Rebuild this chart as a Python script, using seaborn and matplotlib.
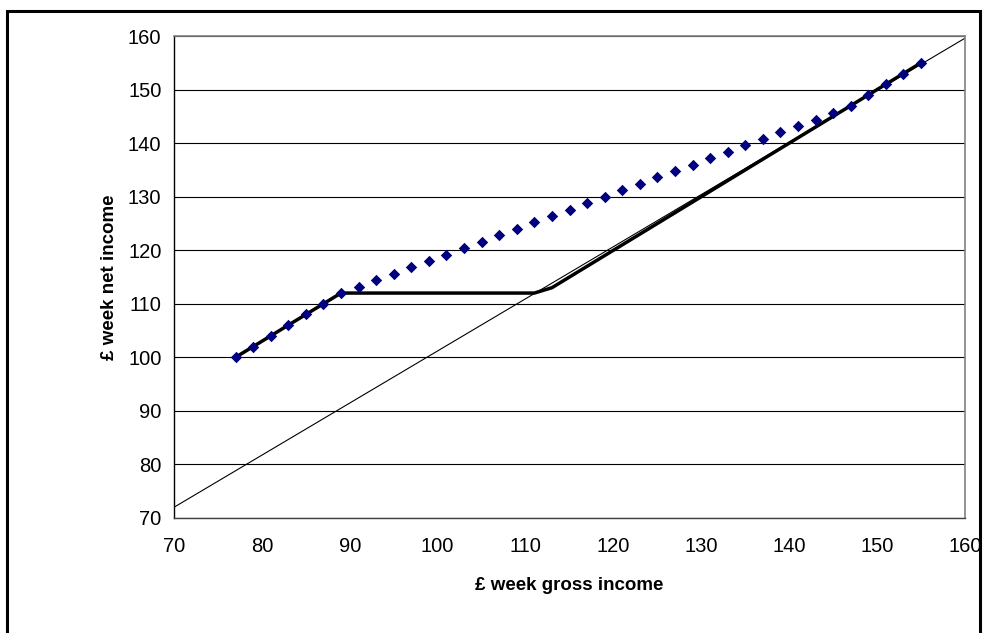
import numpy as np
import pandas as pd
import seaborn as sns
import matplotlib.pyplot as plt
from matplotlib.patches import Rectangle

# gross weekly income (x) for the two kinked series
gross = [77, 79, 81, 83, 85, 87, 89, 91, 93, 95, 97, 99, 101, 103, 105, 107, 109, 111,
         113, 115, 117, 119, 121, 123, 125, 127, 129, 131, 133, 135, 137, 139, 141, 143,
         145, 147, 149, 151, 153, 155]

# dotted series (diamonds)
net_taper = [100, 102, 104, 106, 108, 110, 112, 113.2, 114.4, 115.6, 116.8, 118.0, 119.2,
             120.4, 121.6, 122.8, 124.0, 125.2, 126.4, 127.6, 128.8, 130.0, 131.2, 132.4,
             133.6, 134.8, 136.0, 137.2, 138.4, 139.6, 140.8, 142.0, 143.2, 144.4, 145.6,
             147.0, 149, 151, 153, 155]

# thick black series
net_floor = [100, 102, 104, 106, 108, 110, 112, 112, 112, 112, 112, 112, 112, 112, 112,
             112, 112, 112, 113, 115, 117, 119, 121, 123, 125, 127, 129, 131, 133, 135,
             137, 139, 141, 143, 145, 147, 149, 151, 153, 155]

# thin reference line
ref_x = [70, 160]
ref_y = [72, 159.6]

sns.set_style("white")
plt.rcParams['font.family'] = ['Liberation Sans', 'DejaVu Sans']

df = pd.DataFrame({'gross': gross, 'taper': net_taper, 'floor': net_floor})
ref = pd.DataFrame({'x': ref_x, 'y': ref_y})

fig = plt.figure(figsize=(9.83, 6.33), dpi=100)
ax = fig.add_axes([0.177, 0.1817, 0.8047, 0.7614])

ax.set_xlim(70, 160)
ax.set_ylim(70, 160)
ax.set_xticks(range(70, 161, 10))
ax.set_yticks(range(70, 161, 10))
ax.yaxis.grid(True, color='black', linewidth=0.8)
ax.set_axisbelow(True)

sns.lineplot(data=ref, x='x', y='y', color='black', linewidth=0.8,
             estimator=None, sort=False, ax=ax)
sns.lineplot(data=df, x='gross', y='floor', color='black', linewidth=2.5,
             estimator=None, sort=False, ax=ax)
sns.scatterplot(data=df, x='gross', y='taper', marker='D', color='#000080',
                s=34, edgecolor='#000080', linewidth=0, zorder=5, ax=ax)

for side in ['top', 'right']:
    ax.spines[side].set_color('#808080')
    ax.spines[side].set_linewidth(1.2)
ax.spines['left'].set_color('black')
ax.spines['bottom'].set_color('#404040')
ax.spines['left'].set_linewidth(1.0)
ax.spines['bottom'].set_linewidth(1.0)

ax.tick_params(axis='both', direction='out', length=5, width=0.8, colors='#404040',
               labelcolor='black', labelsize=14.5, pad=4)
ax.tick_params(axis='x', pad=9)

ax.set_xlabel('£ week gross income', fontsize=13.5, fontweight='bold', labelpad=15,
              color='black')
ax.set_ylabel('£ week net income', fontsize=13.5, fontweight='bold', labelpad=7,
              color='black')

# outer chart frame
fig.patches.append(Rectangle((6.5 / 983, -0.02), (980 - 6.5) / 983, 1.02 - 11.5 / 633,
                             transform=fig.transFigure, fill=False,
                             edgecolor='black', linewidth=2.2))

fig.savefig('out.png', dpi=100)
